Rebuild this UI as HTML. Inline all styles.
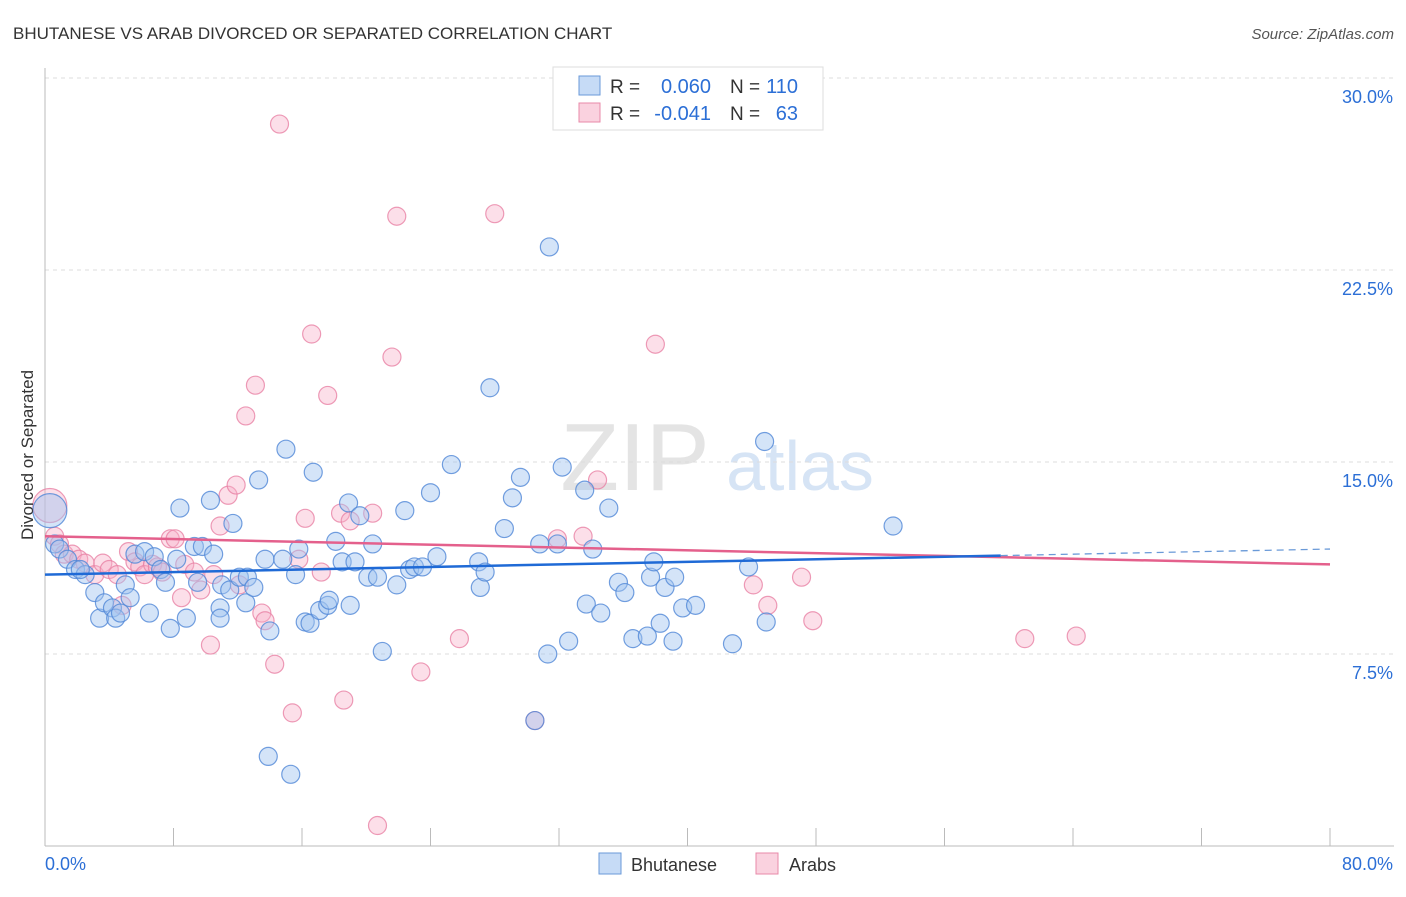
<!DOCTYPE html>
<html><head><meta charset="utf-8"><style>
body{margin:0;background:#fff;font-family:"Liberation Sans",sans-serif;}
svg text{font-family:"Liberation Sans",sans-serif;}
</style></head><body>
<svg id="chart" width="1406" height="892" viewBox="0 0 1406 892" xmlns="http://www.w3.org/2000/svg">
<text x="13" y="39" font-size="17" fill="#333">BHUTANESE VS ARAB DIVORCED OR SEPARATED CORRELATION CHART</text>
<text x="1394" y="39" font-size="15" fill="#555" text-anchor="end" font-style="italic">Source: ZipAtlas.com</text>
<g>
<text x="635" y="490" font-size="96" fill="#e4e4e4" text-anchor="middle" font-family="Liberation Serif">ZIP</text>
<text x="800" y="490" font-size="70" fill="#d6e4f5" text-anchor="middle">atlas</text>
</g>
<g id="grid"></g>
<g id="axes"></g>
<g id="pts"></g>
<g id="lines"></g>
<text transform="translate(33,455) rotate(-90)" font-size="17" fill="#333" text-anchor="middle">Divorced or Separated</text>
<g>
<rect x="553" y="67" width="270" height="63" fill="#fff" stroke="#ddd"/>
<rect x="579" y="76" width="21" height="19" fill="rgba(160,195,240,0.6)" stroke="#6a9ad8"/>
<rect x="579" y="103" width="21" height="19" fill="rgba(247,180,202,0.6)" stroke="#e88aa8"/>
<text x="610" y="93" font-size="19" fill="#333">R =</text>
<text x="711" y="93" font-size="20" fill="#2c6fd6" text-anchor="end">0.060</text>
<text x="730" y="93" font-size="19" fill="#333">N =</text>
<text x="798" y="93" font-size="20" fill="#2c6fd6" text-anchor="end">110</text>
<text x="610" y="120" font-size="19" fill="#333">R =</text>
<text x="711" y="120" font-size="20" fill="#2c6fd6" text-anchor="end">-0.041</text>
<text x="730" y="120" font-size="19" fill="#333">N =</text>
<text x="798" y="120" font-size="20" fill="#2c6fd6" text-anchor="end">63</text>
</g>
<g>
<rect x="599" y="853" width="22" height="21" fill="rgba(160,195,240,0.6)" stroke="#6a9ad8"/>
<text x="631" y="871" font-size="18" fill="#333">Bhutanese</text>
<rect x="756" y="853" width="22" height="21" fill="rgba(247,180,202,0.6)" stroke="#e88aa8"/>
<text x="789" y="871" font-size="18" fill="#333">Arabs</text>
</g>
</svg>
<script>
const blueX=[0.3,0.6,0.9,1.4,1.9,2.5,2.2,3.1,3.4,3.7,4.2,4.4,4.7,5.0,5.3,5.6,6.2,6.5,6.8,7.2,7.5,7.8,8.4,8.2,8.8,9.3,9.5,9.8,10.3,10.5,10.9,10.9,11.0,11.5,11.7,12.1,12.5,12.6,13.0,13.3,13.7,14.0,13.9,14.8,15.0,15.3,15.6,15.8,16.2,16.5,16.7,17.1,17.6,17.7,18.1,18.5,18.9,19.0,19.3,19.6,20.1,20.4,20.7,21.0,21.9,22.4,22.7,23.0,23.5,24.0,24.4,25.3,27.0,27.1,27.4,27.7,28.6,29.1,29.6,30.5,30.8,31.3,31.4,31.9,32.2,32.6,33.6,33.7,34.1,34.6,35.1,35.7,36.1,36.6,37.5,37.7,37.9,38.3,38.6,39.1,39.2,39.7,40.5,42.8,43.8,44.8,44.9,52.8];
const blueY=[13.1,11.8,11.6,11.2,10.8,10.6,10.8,9.9,8.9,9.5,9.3,8.9,9.1,10.2,9.7,11.4,11.5,9.1,11.3,10.8,10.3,8.5,13.2,11.2,8.9,11.7,10.3,11.7,13.5,11.4,9.3,8.9,10.2,10.0,12.6,10.5,9.5,10.5,10.1,14.3,11.2,8.4,3.5,11.2,15.5,2.8,10.6,11.6,8.75,8.7,14.6,9.2,9.4,9.6,11.9,11.1,13.4,9.4,11.1,12.9,10.5,11.8,10.5,7.6,10.2,13.1,10.8,10.9,10.9,13.8,11.3,14.9,11.1,10.1,10.7,17.9,12.4,13.6,14.4,4.9,11.8,7.5,23.4,11.8,14.8,8.0,13.9,9.45,11.6,9.1,13.2,10.3,9.9,8.1,8.2,10.5,11.1,8.7,10.1,8.0,10.5,9.3,9.4,7.9,10.9,15.8,8.75,12.5];
const pinkX=[0.3,0.6,0.9,1.2,1.7,2.1,2.5,3.1,3.6,4.0,4.5,4.8,5.2,5.6,5.9,6.2,6.7,7.0,7.3,7.8,8.1,8.7,8.5,9.3,9.7,10.3,10.5,10.9,11.4,11.9,12.1,12.5,13.1,13.5,13.7,14.3,14.6,15.4,15.8,16.2,16.6,17.2,17.6,18.4,18.6,19.0,20.4,20.7,21.6,21.9,23.4,25.8,28.0,30.5,31.9,33.5,34.4,38.0,44.1,45.0,47.1,47.8,61.0,64.2];
const pinkY=[13.3,12.1,11.8,11.4,11.4,11.2,11.05,10.6,11.05,10.8,10.6,9.4,11.5,11.1,10.9,10.6,11.0,10.9,10.7,12.0,12.0,11.0,9.7,10.7,10.0,7.85,10.6,12.5,13.7,14.1,10.2,16.8,18.0,9.1,8.8,7.1,28.2,5.2,11.2,12.8,20.0,10.7,17.6,13.0,5.7,12.7,13.0,0.8,19.1,24.6,6.8,8.1,24.7,4.9,12.0,12.1,14.3,19.6,10.2,9.4,10.5,8.8,8.1,8.2];
const yTicks=[7.5,15.0,22.5,30.0];
const xTickVals=[0,8,16,24,32,40,48,56,64,72,80];
const blueTrend=[10.6,11.6];
const pinkTrend=[12.1,11.0];
const NS="http://www.w3.org/2000/svg";
const X0=45,X1=1330,YB=846,PX=192/7.5;
const sx=v=>X0+(v/80)*(X1-X0);
const sy=v=>YB-v*PX;
function mk(tag,attrs,parent){const e=document.createElementNS(NS,tag);for(const k in attrs)e.setAttribute(k,attrs[k]);parent.appendChild(e);return e;}
const gridG=document.getElementById('grid'),axesG=document.getElementById('axes'),ptsG=document.getElementById('pts'),linesG=document.getElementById('lines');
yTicks.forEach(t=>{
 const l=mk('line',{x1:X0,x2:1394,y1:sy(t),y2:sy(t),stroke:'#ddd','stroke-dasharray':'4,4'},gridG);
 
 
 const tx=mk('text',{x:1393,y:sy(t)+25,'font-size':18,fill:'#2c6fd6','text-anchor':'end'},axesG);
 tx.textContent=t.toFixed(1)+'%';
 
 
});
const topGrid=mk('line',{x1:X0,x2:1394,y1:78,y2:78,stroke:'#ddd','stroke-dasharray':'4,4'},gridG);


const ya=mk('line',{x1:X0,x2:X0,y1:68,y2:YB,stroke:'#bbb'},axesG);


const xa=mk('line',{x1:X0,x2:1394,y1:YB,y2:YB,stroke:'#bbb'},axesG);


xTickVals.forEach(t=>{
 const l=mk('line',{x1:sx(t),x2:sx(t),y1:828,y2:YB,stroke:'#bbb'},axesG);
 
 
});
const xl0=mk('text',{x:45,y:870,'font-size':18,fill:'#2c6fd6'},axesG);xl0.textContent='0.0%';


const xl1=mk('text',{x:1393,y:870,'font-size':18,fill:'#2c6fd6','text-anchor':'end'},axesG);xl1.textContent='80.0%';


function drawPts(xs,ys,fill,stroke,name){
 xs.forEach((x,i)=>{
  const r=i===0?17:9;
  const c=mk('circle',{cx:sx(x),cy:sy(ys[i]),r:r,fill:fill,stroke:stroke,'stroke-width':1.2},ptsG);
  
  
 });
}
drawPts(pinkX,pinkY,'rgba(247,175,200,0.4)','rgba(232,130,165,0.8)','point-arabs');
drawPts(blueX,blueY,'rgba(160,195,240,0.45)','rgba(80,135,215,0.8)','point-bhutanese');
const bx=59.5,by=blueTrend[0]+(blueTrend[1]-blueTrend[0])*bx/80;
const pl=mk('line',{x1:sx(0),y1:sy(pinkTrend[0]),x2:sx(80),y2:sy(pinkTrend[1]),stroke:'#e4608c','stroke-width':2.5},linesG);


const bl=mk('line',{x1:sx(0),y1:sy(blueTrend[0]),x2:sx(bx),y2:sy(by),stroke:'#1f6ad6','stroke-width':2.5},linesG);


const bd=mk('line',{x1:sx(bx),y1:sy(by),x2:sx(80),y2:sy(blueTrend[1]),stroke:'#6a9ad8','stroke-width':1.3,'stroke-dasharray':'7,5'},linesG);


</script>
</body></html>
